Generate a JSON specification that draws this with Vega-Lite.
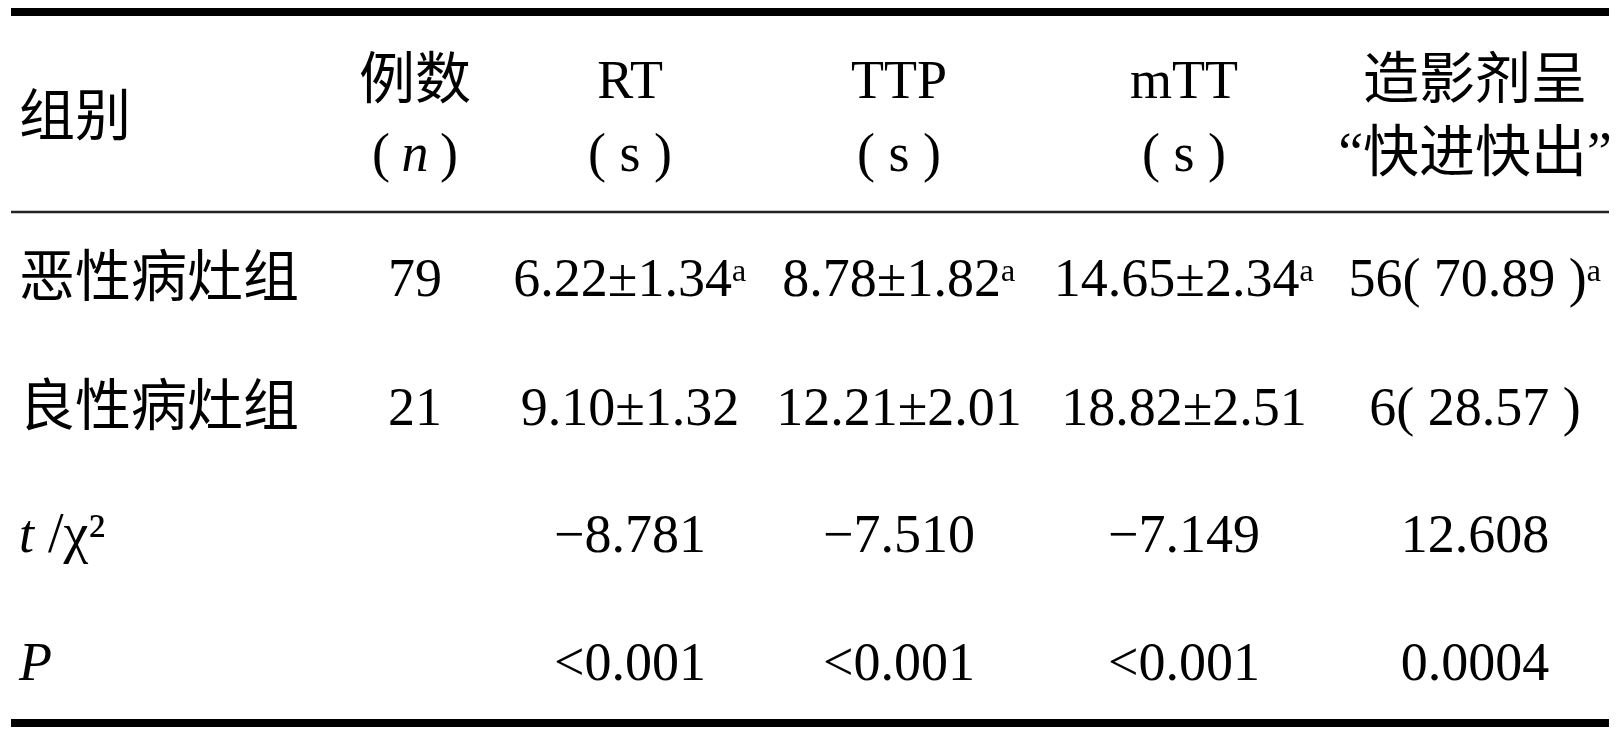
{
  "$schema": "https://vega.github.io/schema/vega-lite/v6.json",
  "width": 1616,
  "height": 736,
  "autosize": {"type": "fit", "contains": "padding"},
  "padding": {"left": 7, "right": 3, "top": 0, "bottom": 0},
  "background": "white",
  "config": {"view": {"stroke": null}},
  "datasets": {
    "thickRules": [{"line": 0}, {"line": 8}],
    "thinRules": [{"line": 3}],
    "labels": [
      {"col": 0, "line": 1.5, "text": "组别"},
      {"col": 0, "line": 4, "text": "恶性病灶组"},
      {"col": 0, "line": 5, "text": "良性病灶组"}
    ],
    "symbols": [
      {"col": 0, "line": 6, "text": "t"},
      {"col": 0, "line": 7, "text": "P"}
    ],
    "chi": [{"col": 0, "line": 6, "text": "/χ²"}],
    "heads": [
      {"col": 1, "line": 1, "text": "例数"},
      {"col": 5, "line": 1, "text": "造影剂呈"},
      {"col": 5, "line": 2, "text": "“快进快出”"}
    ],
    "nItal": [{"col": 1, "line": 2, "text": "n"}],
    "nOpen": [{"col": 1, "line": 2, "text": "("}],
    "nClose": [{"col": 1, "line": 2, "text": ")"}],
    "cells": [
      {"col": 2, "line": 1, "text": "RT"},
      {"col": 3, "line": 1, "text": "TTP"},
      {"col": 4, "line": 1, "text": "mTT"},
      {"col": 2, "line": 2, "text": "( s )"},
      {"col": 3, "line": 2, "text": "( s )"},
      {"col": 4, "line": 2, "text": "( s )"},
      {"col": 1, "line": 4, "text": "79"},
      {"col": 2, "line": 4, "text": "6.22±1.34ᵃ"},
      {"col": 3, "line": 4, "text": "8.78±1.82ᵃ"},
      {"col": 4, "line": 4, "text": "14.65±2.34ᵃ"},
      {"col": 5, "line": 4, "text": "56( 70.89 )ᵃ"},
      {"col": 1, "line": 5, "text": "21"},
      {"col": 2, "line": 5, "text": "9.10±1.32"},
      {"col": 3, "line": 5, "text": "12.21±2.01"},
      {"col": 4, "line": 5, "text": "18.82±2.51"},
      {"col": 5, "line": 5, "text": "6( 28.57 )"},
      {"col": 2, "line": 6, "text": "−8.781"},
      {"col": 3, "line": 6, "text": "−7.510"},
      {"col": 4, "line": 6, "text": "−7.149"},
      {"col": 5, "line": 6, "text": "12.608"},
      {"col": 2, "line": 7, "text": "<0.001"},
      {"col": 3, "line": 7, "text": "<0.001"},
      {"col": 4, "line": 7, "text": "<0.001"},
      {"col": 5, "line": 7, "text": "0.0004"}
    ]
  },
  "layer": [
    {
      "data": {"name": "thickRules"},
      "mark": {"type": "rule", "strokeWidth": 8, "color": "black"},
      "encoding": {
        "y": {"field": "line", "type": "quantitative", "axis": null,
              "scale": {"domain": [0, 1, 2, 3, 4, 5, 6, 7, 8], "range": [12, 98, 171, 212, 296, 425, 552, 680, 723], "zero": false, "nice": false}}
      }
    },
    {
      "data": {"name": "thinRules"},
      "mark": {"type": "rule", "strokeWidth": 2.5, "color": "#222"},
      "encoding": {
        "y": {"field": "line", "type": "quantitative", "axis": null}
      }
    },
    {
      "data": {"name": "labels"},
      "mark": {"type": "text", "align": "left", "baseline": "alphabetic", "font": "Liberation Serif, Noto Sans CJK SC", "fontSize": 56, "color": "black"},
      "encoding": {
        "x": {"field": "col", "type": "quantitative", "axis": null,
              "scale": {"domain": [0, 1, 2, 3, 4, 5], "range": [8, 404, 619, 888, 1173, 1464], "zero": false, "nice": false}},
        "y": {"field": "line", "type": "quantitative", "axis": null},
        "text": {"field": "text"}
      }
    },
    {
      "data": {"name": "symbols"},
      "mark": {"type": "text", "align": "left", "baseline": "alphabetic", "font": "Liberation Serif", "fontStyle": "italic", "fontSize": 54, "color": "black"},
      "encoding": {
        "x": {"field": "col", "type": "quantitative", "axis": null},
        "y": {"field": "line", "type": "quantitative", "axis": null},
        "text": {"field": "text"}
      }
    },
    {
      "data": {"name": "chi"},
      "mark": {"type": "text", "align": "left", "baseline": "alphabetic", "dx": 29, "font": "Liberation Serif, DejaVu Serif", "fontSize": 56, "color": "black"},
      "encoding": {
        "x": {"field": "col", "type": "quantitative", "axis": null},
        "y": {"field": "line", "type": "quantitative", "axis": null},
        "text": {"field": "text"}
      }
    },
    {
      "data": {"name": "heads"},
      "mark": {"type": "text", "align": "center", "baseline": "alphabetic", "font": "Liberation Serif, Noto Sans CJK SC", "fontSize": 56, "color": "black"},
      "encoding": {
        "x": {"field": "col", "type": "quantitative", "axis": null},
        "y": {"field": "line", "type": "quantitative", "axis": null},
        "text": {"field": "text"}
      }
    },
    {
      "data": {"name": "nItal"},
      "mark": {"type": "text", "align": "center", "baseline": "alphabetic", "font": "Liberation Serif", "fontStyle": "italic", "fontSize": 54, "color": "black"},
      "encoding": {
        "x": {"field": "col", "type": "quantitative", "axis": null},
        "y": {"field": "line", "type": "quantitative", "axis": null},
        "text": {"field": "text"}
      }
    },
    {
      "data": {"name": "nOpen"},
      "mark": {"type": "text", "align": "right", "baseline": "alphabetic", "dx": -25, "font": "Liberation Serif", "fontSize": 54, "color": "black"},
      "encoding": {
        "x": {"field": "col", "type": "quantitative", "axis": null},
        "y": {"field": "line", "type": "quantitative", "axis": null},
        "text": {"field": "text"}
      }
    },
    {
      "data": {"name": "nClose"},
      "mark": {"type": "text", "align": "left", "baseline": "alphabetic", "dx": 25, "font": "Liberation Serif", "fontSize": 54, "color": "black"},
      "encoding": {
        "x": {"field": "col", "type": "quantitative", "axis": null},
        "y": {"field": "line", "type": "quantitative", "axis": null},
        "text": {"field": "text"}
      }
    },
    {
      "data": {"name": "cells"},
      "mark": {"type": "text", "align": "center", "baseline": "alphabetic", "font": "Liberation Serif, DejaVu Serif, Noto Sans CJK SC", "fontSize": 54, "color": "black"},
      "encoding": {
        "x": {"field": "col", "type": "quantitative", "axis": null},
        "y": {"field": "line", "type": "quantitative", "axis": null},
        "text": {"field": "text"}
      }
    }
  ]
}
